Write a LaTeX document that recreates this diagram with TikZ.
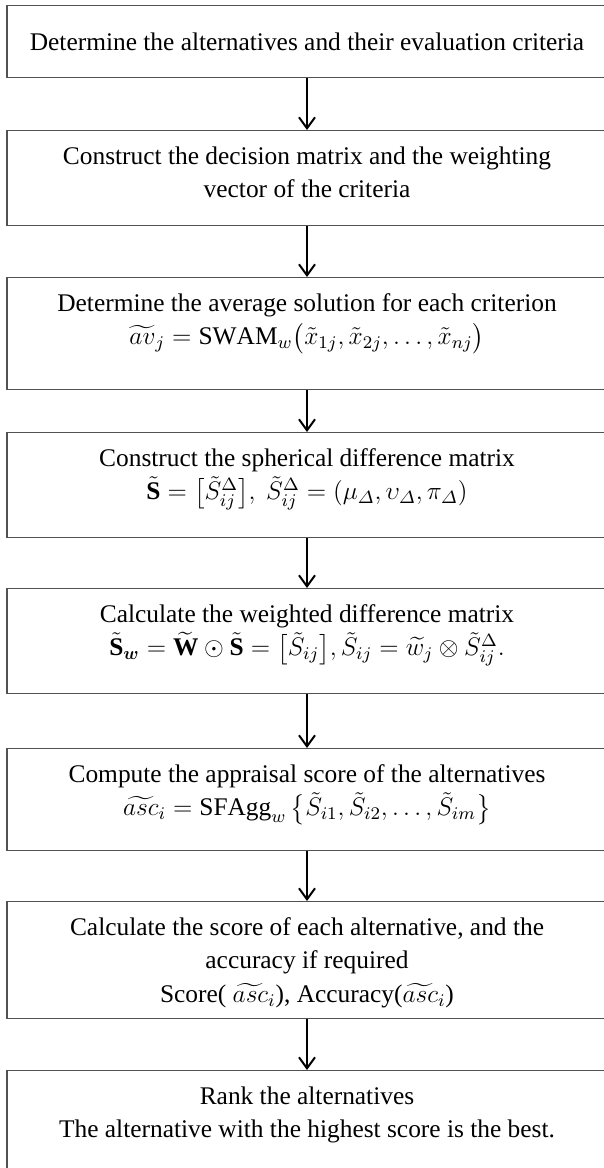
\RequirePackage{fix-cm}
\documentclass[tikz,border=0pt]{standalone}
\usepackage{amsmath,amssymb}
\usepackage{fontspec}
\setmainfont{Liberation Serif}
\usetikzlibrary{arrows.meta,positioning}

\begin{document}
\begin{tikzpicture}[x=0.5pt,y=-0.5pt,
    stepbox/.style={draw=black!68,line width=0.65pt,anchor=north,minimum width=300pt,inner sep=0pt},
    steptext/.style={align=center,inner sep=0pt,font=\fontsize{12.7}{16.75}\selectfont},
    flow/.style={line width=1pt,-{Straight Barb[length=5.5pt,width=8pt,line width=1pt]}}]
  % 1 unit = 1 px of the 604x1168 frame; boxes run past the right edge
  \clip (0,0) rectangle (604,1168);
  \node[stepbox,minimum height=36pt]   (s1) at (307,5)    {};
  \node[stepbox,minimum height=47.5pt] (s2) at (307,130)  {};
  \node[stepbox,minimum height=56pt]   (s3) at (307,277)  {};
  \node[stepbox,minimum height=52.5pt] (s4) at (307,432)  {};
  \node[stepbox,minimum height=52.5pt] (s5) at (307,588)  {};
  \node[stepbox,minimum height=51pt]   (s6) at (307,748)  {};
  \node[stepbox,minimum height=58.5pt] (s7) at (307,901)  {};
  \node[stepbox,minimum height=60pt]   (s8) at (307,1070) {};
  % texts, hung from the top of each box
  \node[steptext] (t1) at (s1) {Determine the alternatives and their evaluation criteria};
  \node[steptext,below=8pt of s2.north] (t2) {Construct the decision matrix and the weighting\\vector of the criteria};
  \node[steptext,below=8pt of s3.north] (t3) {Determine the average solution for each criterion\\
    $\widetilde{av}_j=\mathrm{SWAM}_w\bigl(\tilde{x}_{1j},\tilde{x}_{2j},\ldots,\tilde{x}_{nj}\bigr)$};
  \node[steptext,below=8pt of s4.north] (t4) {Construct the spherical difference matrix\\
    $\tilde{\mathbf{S}}=\bigl[\tilde{S}^{\Delta}_{ij}\bigr],\ \tilde{S}^{\Delta}_{ij}=(\mu_{\varDelta},\upsilon_{\varDelta},\pi_{\varDelta})$};
  \node[steptext,below=8pt of s5.north] (t5) {Calculate the weighted difference matrix\\
    $\tilde{\mathbf{S}}_{\boldsymbol{w}}=\widetilde{\mathbf{W}}\odot\tilde{\mathbf{S}}=\bigl[\tilde{S}_{ij}\bigr],\tilde{S}_{ij}=\widetilde{w}_j\otimes\tilde{S}^{\Delta}_{ij}.$};
  \node[steptext,below=8pt of s6.north] (t6) {Compute the appraisal score of the alternatives\\
    $\widetilde{asc}_i=\mathrm{SFAgg}_w\,\bigl\{\tilde{S}_{i1},\tilde{S}_{i2},\ldots,\tilde{S}_{im}\bigr\}$};
  \node[steptext,below=8pt of s7.north] (t7) {Calculate the score of each alternative, and the\\accuracy if required\\
    Score(\ $\widetilde{asc}_i$), Accuracy($\widetilde{asc}_i$)};
  \node[steptext,below=8pt of s8.north] (t8) {Rank the alternatives\\The alternative with the highest score is the best.};
  \foreach \a/\b in {s1/s2,s2/s3,s3/s4,s4/s5,s5/s6,s6/s7,s7/s8}
    \draw[flow] (\a.south) -- (\b.north);
\end{tikzpicture}
\end{document}
